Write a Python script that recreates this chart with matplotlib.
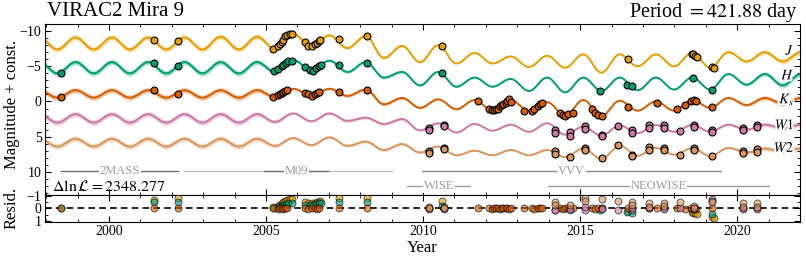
import numpy as np
import matplotlib.pyplot as plt
import matplotlib.patheffects as pe

plt.rcParams['font.family'] = ['Liberation Serif', 'DejaVu Serif']
plt.rcParams['mathtext.fontset'] = 'stix'

star_name = "VIRAC2 Mira 9"
period_days = 421.88
delta_lnL = 2348.277

ext_t = [1997.78, 1998.35, 1998.93, 1999.51, 2000.09, 2000.66, 2001.24, 2001.82,
         2002.40, 2002.97, 2003.55, 2004.13, 2004.71, 2005.28, 2005.86, 2006.44,
         2007.02, 2007.59, 2008.17, 2008.75, 2009.33, 2009.90, 2010.48, 2011.06,
         2011.64, 2012.21, 2012.79, 2013.37, 2013.95, 2014.52, 2015.10, 2015.68,
         2016.26, 2016.83, 2017.41, 2017.99, 2018.57, 2019.14, 2019.72, 2020.30,
         2020.88, 2021.45, 2022.03]
J_ext = [-9.1, -7.4, -9.1, -7.4, -9.1, -7.4, -9.1, -7.4, -9.1, -7.4, -9.2, -7.4,
         -9.2, -7.5, -9.6, -7.85, -9.4, -7.6, -9.3, -6.2, -7.9, -5.6, -8.0, -5.4,
         -6.9, -5.4, -6.4, -4.9, -6.5, -4.8, -6.7, -4.1, -6.7, -5.0, -6.7, -5.0,
         -6.9, -4.8, -7.0, -5.7, -7.0, -5.7, -7.0]
H_ext = [-5.6, -4.0, -5.6, -4.0, -5.6, -4.0, -5.6, -4.0, -5.6, -4.0, -5.6, -4.0,
         -5.6, -4.2, -5.9, -4.45, -5.8, -4.2, -5.6, -3.4, -4.2, -2.3, -4.2, -2.1,
         -3.4, -2.1, -3.2, -1.5, -3.4, -1.3, -3.4, -1.5, -3.4, -1.6, -3.4, -1.7,
         -3.4, -1.7, -3.9, -2.4, -3.9, -2.3, -3.9]
Ks_ext = [-1.6, -0.55, -1.6, -0.55, -1.6, -0.55, -1.6, -0.55, -1.6, -0.55, -1.6, -0.55,
          -1.6, -0.65, -1.8, -0.85, -1.8, -0.8, -1.7, 0.4, -0.5, 0.9, -0.3, 1.1,
          -0.2, 1.3, -0.2, 1.35, 0.1, 2.0, -0.2, 2.05, -0.1, 1.3, 0.0, 1.3,
          -0.2, 0.9, -0.5, 0.5, -0.5, 0.3, -0.5]
W1_ext = [1.8, 3.0, 1.8, 3.0, 1.8, 3.0, 1.8, 3.0, 1.8, 3.0, 1.8, 3.0,
          1.8, 2.9, 1.7, 2.8, 1.7, 2.75, 2.3, 3.2, 2.5, 4.1, 3.1, 4.4,
          3.2, 4.15, 3.3, 4.3, 3.1, 4.7, 3.6, 4.85, 3.4, 4.5, 3.35, 4.3,
          3.35, 4.3, 3.3, 4.0, 3.3, 3.8, 3.3]
W2_ext = [5.3, 6.4, 5.3, 6.4, 5.3, 6.4, 5.3, 6.4, 5.3, 6.4, 5.3, 6.4,
          5.3, 6.3, 5.2, 6.2, 5.1, 6.3, 5.7, 6.9, 6.05, 7.25, 6.4, 7.65,
          7.0, 7.65, 6.9, 7.65, 6.9, 7.9, 6.7, 8.15, 6.3, 7.7, 6.6, 7.55,
          6.65, 7.75, 6.6, 7.25, 6.7, 7.1, 6.7]
# 1-sigma width of the model band at the same epochs
sig_ext = [0.22, 0.22, 0.22, 0.22, 0.22, 0.22, 0.22, 0.22, 0.22, 0.22, 0.22, 0.22,
           0.22, 0.15, 0.1, 0.1, 0.1, 0.12, 0.12, 0.12, 0.12, 0.08, 0.06, 0.05,
           0.04, 0.03, 0.03, 0.03, 0.03, 0.03, 0.03, 0.03, 0.03, 0.03, 0.03, 0.03,
           0.03, 0.04, 0.08, 0.12, 0.17, 0.2, 0.22]

# observed photometry
J_t = [2001.43, 2002.18, 2005.23, 2005.39, 2005.44, 2005.50, 2005.55, 2005.60, 2005.66,
       2005.76, 2005.81, 2006.24, 2006.35, 2006.46, 2006.56, 2006.61, 2006.67, 2006.72,
       2007.32, 2008.22, 2010.59, 2016.54, 2018.55, 2018.61, 2018.66, 2018.72,
       2019.19, 2019.27]
J_m = [-8.8, -8.6, -7.5, -7.9, -8.1, -8.4, -8.8, -9.3, -9.5, -9.65, -9.6, -8.4, -7.95,
       -7.9, -8.1, -8.35, -8.6, -8.7, -8.9, -9.3, -7.9, -6.0, -6.8, -6.7, -6.45, -6.3,
       -4.9, -4.8]
J_res = [-0.7, -0.85, -0.1, -0.2, -0.3, -0.4, -0.5, -0.6, -0.7, -0.75, -0.75, -0.5,
         -0.45, -0.4, -0.45, -0.5, -0.55, -0.6, -0.85, -0.85, -0.6, 0.25, 0.3, 0.35,
         0.4, 0.45, 0.7, 0.8]

H_t = [1998.48, 2001.43, 2002.18, 2005.26, 2005.37, 2005.50, 2005.55, 2005.63, 2005.71,
       2005.81, 2006.24, 2006.40, 2006.50, 2006.58, 2006.67, 2006.74, 2007.32, 2008.22,
       2010.59, 2015.64, 2016.50, 2016.65, 2018.60, 2019.20]
H_m = [-4.1, -5.4, -5.0, -4.3, -4.65, -5.0, -5.25, -5.5, -5.7, -5.8, -4.85, -4.5, -4.4,
       -4.8, -5.0, -5.25, -5.2, -5.5, -4.1, -1.5, -2.4, -2.2, -3.4, -1.7]
H_res = [0.0, -0.5, -0.55, 0.0, -0.1, -0.2, -0.3, -0.35, -0.4, -0.45, -0.3, -0.25, -0.3,
         -0.35, -0.4, -0.45, -0.55, -0.5, -0.2, 0.1, 0.3, 0.35, 0.05, 0.45]

Ks_t = [1998.48, 2001.43, 2002.18, 2005.23, 2005.37, 2005.44, 2005.50, 2005.55, 2005.60,
        2005.66, 2006.24, 2006.35, 2006.46, 2006.56, 2006.61, 2006.70, 2007.32, 2008.22,
        2011.76, 2012.11, 2012.19, 2012.26, 2012.32, 2012.40, 2012.45, 2012.50, 2012.55,
        2012.64, 2012.68, 2012.75, 2012.79, 2013.20, 2013.47, 2013.54, 2013.66, 2013.73,
        2013.80, 2014.36, 2014.45, 2014.52, 2014.62, 2014.77, 2015.37, 2015.48, 2015.58,
        2015.69, 2016.54, 2017.46, 2018.08, 2018.35, 2018.52, 2018.63, 2018.68, 2019.19]
Ks_m = [-0.65, -1.6, -1.1, -0.7, -0.85, -1.0, -1.15, -1.3, -1.5, -1.7, -1.15, -1.0, -0.8,
        -1.0, -1.2, -1.4, -1.35, -1.7, -0.1, 1.1, 1.2, 1.25, 1.1, 1.0, 0.7, 0.5, 0.4,
        0.15, -0.1, -0.3, 0.05, 1.3, 1.3, 1.1, 0.7, 0.4, 0.15, 1.6, 1.95, 2.0, 1.8, 1.6,
        1.1, 1.6, 1.95, 2.0, 0.85, 0.15, 1.1, 0.5, -0.1, -0.2, -0.1, 0.85]
Ks_res = [0.0, 0.0, 0.0, 0.0, 0.02, -0.02, 0.0, 0.03, -0.03, 0.0, 0.0, 0.02, -0.02, 0.0,
          0.03, 0.0, 0.0, 0.0, 0.0, 0.0, 0.02, -0.02, 0.0, 0.0, 0.02, 0.0, -0.02, 0.0,
          0.0, 0.02, 0.0, 0.0, 0.0, 0.02, 0.0, -0.02, 0.0, 0.0, 0.02, 0.0, -0.02, 0.0,
          0.0, 0.02, 0.0, 0.0, 0.0, 0.0, 0.0, 0.02, 0.0, -0.02, 0.05, 0.0]

W1_t = [2010.18, 2010.18, 2010.68, 2010.68, 2014.20, 2014.20, 2014.68, 2014.68, 2015.16,
        2015.16, 2015.69, 2015.69, 2016.22, 2016.65, 2016.65, 2017.18, 2017.18, 2017.66,
        2017.66, 2018.19, 2018.64, 2018.64, 2019.19, 2019.19, 2020.18, 2020.18, 2020.62,
        2020.62]
W1_m = [3.8, 4.0, 3.4, 3.55, 4.1, 4.5, 4.35, 4.95, 3.45, 3.9, 4.75, 4.9, 3.45, 4.1, 4.55,
        3.3, 3.75, 3.3, 3.8, 4.25, 3.3, 3.7, 4.05, 4.4, 3.75, 4.0, 3.3, 3.7]
W1_res = [0.0, 0.05, 0.0, 0.05, 0.15, 0.1, 0.15, 0.05, 0.1, -0.1, 0.0, 0.05, 0.1, 0.1,
          0.0, 0.0, -0.05, 0.0, 0.05, 0.0, 0.05, 0.0, -0.75, -0.6, 0.0, 0.05, 0.0, 0.05]

W2_t = [2010.18, 2010.18, 2010.68, 2010.68, 2014.20, 2014.20, 2014.68, 2015.16, 2015.16,
        2015.69, 2016.22, 2016.65, 2016.65, 2017.18, 2017.18, 2017.66, 2017.66, 2018.19,
        2018.64, 2018.64, 2019.19, 2020.18, 2020.18, 2020.62, 2020.62]
W2_m = [7.1, 7.3, 6.55, 6.8, 7.0, 7.5, 7.85, 6.6, 6.95, 8.1, 6.25, 7.55, 7.75, 6.5, 6.85,
        6.55, 6.95, 7.55, 6.6, 6.95, 7.7, 7.0, 7.3, 6.8, 7.15]
W2_res = [-0.1, 0.0, -0.15, 0.0, -0.5, -0.3, -0.25, -0.8, -0.6, -0.75, -0.6, -0.5, -0.25,
          -0.45, -0.15, -0.45, -0.2, -0.5, -0.2, 0.0, -0.5, -0.45, -0.15, -0.45, -0.15]

# survey coverage
surveys = ["2MASS", "M09", "VVV", "WISE", "NEOWISE"]
survey_start = [1998.48, 2004.95, 2009.96, 2009.50, 2013.99]
survey_end = [2002.20, 2006.97, 2019.50, 2011.50, 2021.00]
survey_row = [0, 0, 0, 1, 1]
extra_span = (2002.40, 2009.00)

bands = [
    (r"$J$", J_ext, J_t, J_m, J_res, "#E69F00"),
    (r"$H$", H_ext, H_t, H_m, H_res, "#009E73"),
    (r"$K_s$", Ks_ext, Ks_t, Ks_m, Ks_res, "#D55E00"),
    (r"$W1$", W1_ext, W1_t, W1_m, W1_res, "#CC79A7"),
    (r"$W2$", W2_ext, W2_t, W2_m, W2_res, "#D9965E"),
]
label_mag = [-7.2, -3.7, -0.3, 3.3, 6.6]


def smooth_through(tk, mk, n=40):
    # half-cosine segments between successive extrema
    ts, ms = [], []
    for i in range(len(tk) - 1):
        s = np.linspace(0, 1, n, endpoint=False)
        ts.append(tk[i] + s * (tk[i + 1] - tk[i]))
        ms.append(mk[i] + (mk[i + 1] - mk[i]) * (1 - np.cos(np.pi * s)) / 2)
    ts.append([tk[-1]])
    ms.append([mk[-1]])
    return np.concatenate(ts), np.concatenate(ms)


fig = plt.figure(figsize=(8.06, 2.59), dpi=100)
ax = fig.add_axes([0.0558, 0.247, 0.9367, 0.66])
axr = fig.add_axes([0.0558, 0.143, 0.9367, 0.104], sharex=ax)

for (lab, ext, t_obs, m_obs, res, col), ym in zip(bands, label_mag):
    tt, mm = smooth_through(ext_t, ext)
    _, ss = smooth_through(ext_t, sig_ext)
    ax.fill_between(tt, mm - 2 * ss, mm + 2 * ss, color=col, alpha=0.22, lw=0)
    ax.fill_between(tt, mm - ss, mm + ss, color=col, alpha=0.3, lw=0)
    ax.plot(tt, mm, color=col, lw=1.4)
    ax.plot(t_obs, m_obs, 'o', ms=5, mfc=col, mec='k', mew=0.8, zorder=5)
    axr.plot(t_obs, res, 'o', ms=5, mfc=col, mec='k', mew=0.7, alpha=0.6, zorder=5)
    ax.text(0.993, ym, lab, transform=ax.get_yaxis_transform(), ha='right', va='center',
            fontsize=10.5, path_effects=[pe.withStroke(linewidth=3, foreground='white')],
            zorder=6)

row_mag = [9.9, 12.0]
line_col = ["#6f6f6f", "#6f6f6f", "#8a8a8a", "#9a9a9a", "#9a9a9a"]
ax.plot(extra_span, [row_mag[0]] * 2, color="#bdbdbd", lw=0.9)
for name, a, b, r, c in zip(surveys, survey_start, survey_end, survey_row, line_col):
    ax.plot([a, b], [row_mag[r]] * 2, color=c, lw=1.0)
    ax.text((a + b) / 2, row_mag[r], name, ha='center', va='center', fontsize=9,
            color="#9a9a9a", bbox=dict(fc='white', ec='none', pad=0.5))

ax.text(0.009, 0.05, r"$\Delta\ln\mathcal{L} = %.3f$" % delta_lnL, transform=ax.transAxes,
        fontsize=11.5, ha='left', va='center')

ax.set_xlim(1997.96, 2022.0)
ax.set_ylim(13.3, -11)
ax.set_yticks([-10, -5, 0, 5, 10])
ax.set_yticks(np.arange(-11, 14), minor=True)
axr.set_ylim(1.1, -1.08)
axr.set_yticks([-1, 0, 1])
axr.set_yticks([-0.5, 0.5], minor=True)
axr.axhline(0, color='k', ls='--', lw=1.2, dashes=(4, 2.5), zorder=4)
axr.set_xticks([2000, 2005, 2010, 2015, 2020])
axr.set_xticks(np.arange(1998, 2023), minor=True)
plt.setp(ax.get_xticklabels(), visible=False)

for a in (ax, axr):
    a.tick_params(which='both', direction='in', top=True, right=True, labelsize=10, pad=2.5)
    a.tick_params(which='major', length=4, width=0.8)
    a.tick_params(which='minor', length=2, width=0.6)
    for sp in a.spines.values():
        sp.set_linewidth(0.8)

axr.set_xlabel("Year", fontsize=12, labelpad=1)
fig.text(12 / 806, 1 - 104 / 259, "Magnitude + const.", rotation=90, ha='center',
         va='center', fontsize=12)
fig.text(12 / 806, 1 - 208 / 259, "Resid.", rotation=90, ha='center', va='center',
         fontsize=12)
fig.text(47 / 806, 1 - 12 / 259, star_name, ha='left', va='center', fontsize=15)
fig.text(798 / 806, 1 - 12 / 259, r"Period $= %.2f$ day" % period_days, ha='right',
         va='center', fontsize=14.5)

fig.savefig("out.png", dpi=100)
